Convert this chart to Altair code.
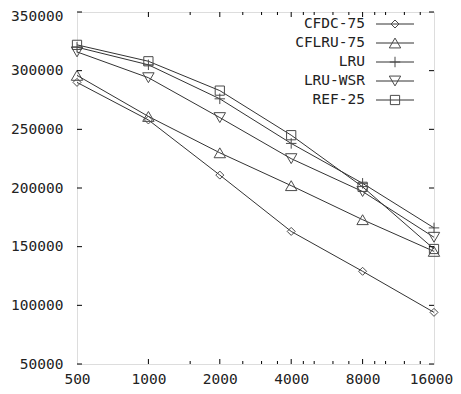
import altair as alt
import pandas as pd

sizes = [500, 1000, 2000, 4000, 8000, 16000]
series_names = ["CFDC-75", "CFLRU-75", "LRU", "LRU-WSR", "REF-25"]
cfdc_75 = [290000, 258000, 211000, 163000, 129000, 94000]
cflru_75 = [296000, 261000, 230000, 202000, 173000, 146000]
lru = [320000, 305000, 276000, 238000, 204000, 166000]
lru_wsr = [316000, 294000, 260000, 225000, 197000, 158000]
ref_25 = [322000, 308000, 283000, 245000, 201000, 148000]
y_ticks = [50000, 100000, 150000, 200000, 250000, 300000, 350000]
x_minor_ticks = [1500, 2500, 3000, 3500, 4500, 5000, 6000, 7000, 9000, 10000, 12000, 14000]

values = [cfdc_75, cflru_75, lru, lru_wsr, ref_25]
PLUS = "M-1,0L1,0M0,-1L0,1"
shapes = ["diamond", "triangle-up", PLUS, "triangle-down", "square"]
msizes = [64, 130, 110, 130, 85]

W, H = 357, 352
FONT = "DejaVu Sans Mono"
FS = 14.5
LINE = "#333333"
MARK = "#4a4a4a"

rows = []
for name, vals in zip(series_names, values):
    for s, v in zip(sizes, vals):
        rows.append({"series": name, "size": s, "value": v})
df = pd.DataFrame(rows)

xscale = alt.Scale(type="log", domain=[500, 16000], nice=False)
yscale = alt.Scale(domain=[50000, 350000], nice=False, zero=False)

base = alt.Chart(df)
lines = base.mark_line(color=LINE, strokeWidth=1).encode(
    x=alt.X("size:Q", scale=xscale,
            axis=alt.Axis(values=sizes, format="d", title=None, grid=False, ticks=False,
                          tickSize=0, domain=False, labelPadding=8, labelFont=FONT,
                          labelFontSize=FS, labelColor="#222", labelFlush=False,
                          labelOffset={"condition": {"test": "datum.value == 16000", "value": -3},
                                       "value": 0})),
    y=alt.Y("value:Q", scale=yscale,
            axis=alt.Axis(values=y_ticks, format="d", title=None, grid=False, ticks=False,
                          tickSize=0, domain=False, labelPadding=14, labelFont=FONT,
                          labelFontSize=FS, labelColor="#222", labelFlush=False,
                          labelOffset={"condition": {"test": "datum.value == 350000", "value": 4},
                                       "value": 0})),
    detail="series:N",
)

point_layers = []
for name, shp, ms in zip(series_names, shapes, msizes):
    point_layers.append(
        alt.Chart(df[df["series"] == name]).mark_point(
            shape=shp, size=ms, filled=False, color=MARK, strokeWidth=1, opacity=1
        ).encode(x=alt.X("size:Q", scale=xscale), y=alt.Y("value:Q", scale=yscale))
    )

yt = pd.DataFrame({"v": y_ticks})
tick_layers = [
    alt.Chart(yt).mark_rule(color="#000", strokeWidth=1).encode(
        y=alt.Y("v:Q", scale=yscale), x=alt.value(0), x2=alt.value(5)),
    alt.Chart(yt).mark_rule(color="#000", strokeWidth=1).encode(
        y=alt.Y("v:Q", scale=yscale), x=alt.value(W - 5), x2=alt.value(W)),
]
xt = pd.DataFrame({"v": sizes[1:-1]})
xm = pd.DataFrame({"v": x_minor_ticks})
for d, L in ((xt, 5), (xm, 3)):
    tick_layers.append(alt.Chart(d).mark_rule(color="#000", strokeWidth=1).encode(
        x=alt.X("v:Q", scale=xscale), y=alt.value(H - L), y2=alt.value(H)))
    tick_layers.append(alt.Chart(d).mark_rule(color="#000", strokeWidth=1).encode(
        x=alt.X("v:Q", scale=xscale), y=alt.value(0), y2=alt.value(L)))

legend_layers = []
for i, (name, shp, ms) in enumerate(zip(series_names, shapes, msizes)):
    yv = 12 + 19 * i
    one = alt.Chart(pd.DataFrame({"series": [name]}))
    legend_layers.append(one.mark_text(align="right", baseline="middle", font=FONT,
                                       fontSize=FS, color="#222").encode(
        x=alt.value(288), y=alt.value(yv), text="series:N"))
    legend_layers.append(one.mark_rule(color=LINE, strokeWidth=1).encode(
        x=alt.value(299), x2=alt.value(337), y=alt.value(yv)))
    legend_layers.append(one.mark_point(shape=shp, size=ms, filled=False, color=MARK,
                                        strokeWidth=1, opacity=1).encode(
        x=alt.value(318), y=alt.value(yv)))

chart = alt.layer(lines, *point_layers, *tick_layers, *legend_layers).properties(
    width=W, height=H,
    autosize=alt.AutoSizeParams(type="none"),
    padding={"left": 69, "top": 4, "right": 19, "bottom": 22},
).configure_view(stroke="#000", strokeWidth=1).configure(background="white")

chart.save("out.html", embed_options={"renderer": "svg", "actions": False})
